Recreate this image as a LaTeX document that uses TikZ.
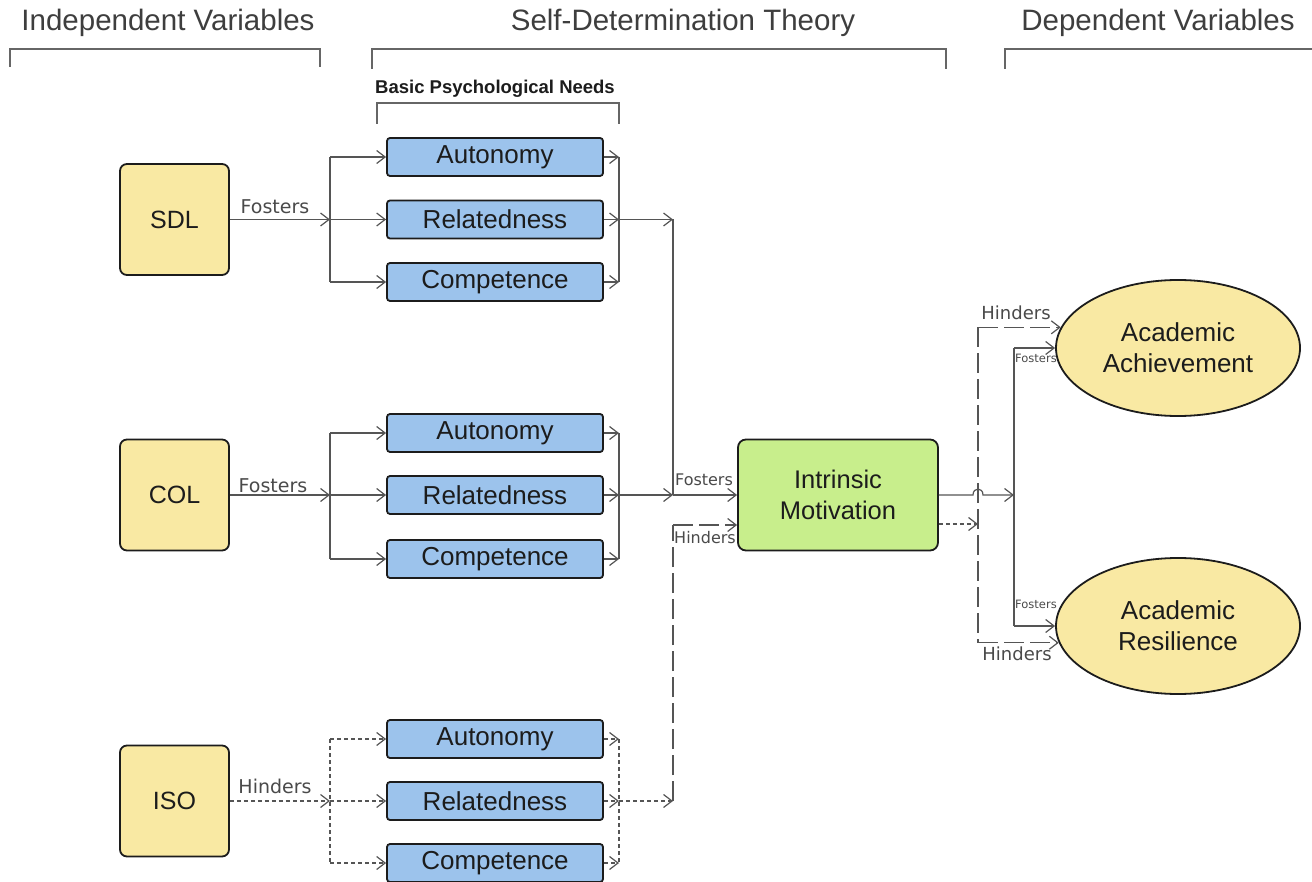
\documentclass[tikz,border=0pt]{standalone}
\usepackage{fontspec}
\setmainfont{Liberation Sans}
\newfontfamily\lblfont{DejaVu Sans}
\usetikzlibrary{arrows.meta,shapes.geometric}

\definecolor{yel}{HTML}{F9E9A3}
\definecolor{blu}{HTML}{9CC3EC}
\definecolor{grn}{HTML}{C8EE8C}
\definecolor{ink}{HTML}{1C1C1C}
\definecolor{wire}{HTML}{555555}
\definecolor{lbl}{HTML}{4A4A4A}

\tikzset{
  conn/.style={draw=wire, line width=1.2pt},
  tip/.style={-{Straight Barb[length=8.5pt,width=13pt]}},
  dots/.style={dash pattern=on 4pt off 3pt},
  longdash/.style={dash pattern=on 20pt off 6pt},
  ivbox/.style={draw=ink, line width=1.8pt, fill=yel, rounded corners=7pt,
    minimum width=109pt, minimum height=111pt, inner sep=0pt,
    font=\fontsize{25}{30}\selectfont, text=ink},
  needbox/.style={draw=ink, line width=1.8pt, fill=blu, rounded corners=3pt,
    minimum width=216pt, minimum height=38pt, inner sep=0pt,
    font=\fontsize{26}{30}\selectfont, text=ink},
  imbox/.style={draw=ink, line width=1.8pt, fill=grn, rounded corners=8pt,
    minimum width=200pt, minimum height=111pt, inner sep=0pt, align=center,
    font=\fontsize{25.5}{31}\selectfont, text=ink},
  dvell/.style={draw=ink, line width=1.8pt, fill=yel, ellipse, inner sep=0pt,
    minimum width=244pt, minimum height=136pt, align=center,
    font=\fontsize{26}{31}\selectfont, text=ink},
  title/.style={font=\fontsize{29.5}{32}\selectfont, text=ink!85},
  bracket/.style={draw=wire!90, line width=1.4pt},
  elabel/.style={font=\lblfont\fontsize{19}{22}\selectfont, text=lbl, inner sep=0pt},
}

\begin{document}
\begin{tikzpicture}[x=1pt,y=-1pt]
  \useasboundingbox (0,0) rectangle (1312,882);
  \fill[white] (0,0) rectangle (1312,882);

  % section headings and their brackets
  \node[title] (tIV) at (168,23) {Independent Variables};
  \node[title] (tSDT) at (683,23) {Self-Determination Theory};
  \node[title] (tDV) at (1158,23) {Dependent Variables};
  \draw[bracket] (10,67) -- (10,49) -- (320,49) -- (320,67);
  \draw[bracket] (372,69) -- (372,49) -- (946,49) -- (946,69);
  \draw[bracket] (1005,69) -- (1005,49) -- (1312,49);

  \node[font=\bfseries\fontsize{18.5}{20}\selectfont, text=ink] (bpn) at (495,89) {Basic Psychological Needs};
  \draw[bracket] (377,124) -- (377,103) -- (619,103) -- (619,124);

  % independent variables
  \node[ivbox] (sdl) at (174.5,219.5) {SDL};
  \node[ivbox] (col) at (174.5,495) {COL};
  \node[ivbox] (iso) at (174.5,801) {ISO};

  % basic psychological needs, one triple per independent variable
  \node[needbox] (a1) at (495,157) {Autonomy};
  \node[needbox] (r1) at (495,219.5) {Relatedness};
  \node[needbox] (c1) at (495,282) {Competence};
  \node[needbox] (a2) at (495,433) {Autonomy};
  \node[needbox] (r2) at (495,495) {Relatedness};
  \node[needbox] (c2) at (495,559) {Competence};
  \node[needbox] (a3) at (495,739) {Autonomy};
  \node[needbox] (r3) at (495,801) {Relatedness};
  \node[needbox] (c3) at (495,863) {Competence};

  % mediator and outcomes
  \node[imbox] (im) at (838,495) {Intrinsic\\Motivation};
  \node[dvell] (ach) at (1178,348) {Academic\\Achievement};
  \node[dvell] (res) at (1178,626) {Academic\\Resilience};

  % junction points
  \coordinate (s1) at (330,219.5);
  \coordinate (s2) at (330,495);
  \coordinate (s3) at (330,801);
  \coordinate (e1) at (619,219.5);
  \coordinate (e2) at (619,495);
  \coordinate (e3) at (619,801);
  \coordinate (m1) at (673,219.5);
  \coordinate (m2) at (673,495);
  \coordinate (m3) at (673,801);
  \coordinate (h3) at (673,525);
  \coordinate (fv) at (1014,495);
  \coordinate (hv) at (978,524);
  \coordinate (jp) at (978,495);

  % SDL fosters
  \draw[conn,tip] (sdl.east) -- (s1);
  \draw[conn] (s1 |- a1.west) -- (s1 |- c1.west);
  \draw[conn,tip] (s1 |- a1.west) -- (a1.west);
  \draw[conn,tip] (s1) -- (r1.west);
  \draw[conn,tip] (s1 |- c1.west) -- (c1.west);
  \draw[conn,tip] (a1.east) -- (e1 |- a1.east);
  \draw[conn,tip] (r1.east) -- (e1);
  \draw[conn,tip] (c1.east) -- (e1 |- c1.east);
  \draw[conn] (e1 |- a1.east) -- (e1 |- c1.east);
  \draw[conn,tip] (e1) -- (m1);
  \node[elabel] (lsdl) at (275,207) {Fosters};

  % COL fosters
  \draw[conn,tip] (col.east) -- (s2);
  \draw[conn] (s2 |- a2.west) -- (s2 |- c2.west);
  \draw[conn,tip] (s2 |- a2.west) -- (a2.west);
  \draw[conn,tip] (s2) -- (r2.west);
  \draw[conn,tip] (s2 |- c2.west) -- (c2.west);
  \draw[conn,tip] (a2.east) -- (e2 |- a2.east);
  \draw[conn,tip] (r2.east) -- (e2);
  \draw[conn,tip] (c2.east) -- (e2 |- c2.east);
  \draw[conn] (e2 |- a2.east) -- (e2 |- c2.east);
  \draw[conn,tip] (e2) -- (m2);
  \node[elabel] (lcol) at (273,486) {Fosters};

  % ISO hinders
  \draw[conn,dots,tip] (iso.east) -- (s3);
  \draw[conn,dots] (s3 |- a3.west) -- (s3 |- c3.west);
  \draw[conn,dots,tip] (s3 |- a3.west) -- (a3.west);
  \draw[conn,dots,tip] (s3) -- (r3.west);
  \draw[conn,dots,tip] (s3 |- c3.west) -- (c3.west);
  \draw[conn,dots,tip] (a3.east) -- (e3 |- a3.east);
  \draw[conn,dots,tip] (r3.east) -- (e3);
  \draw[conn,dots,tip] (c3.east) -- (e3 |- c3.east);
  \draw[conn,dots] (e3 |- a3.east) -- (e3 |- c3.east);
  \draw[conn,dots,tip] (e3) -- (m3);
  \node[elabel] (liso) at (275,786) {Hinders};

  % into intrinsic motivation
  \draw[conn] (m1) -- (m2);
  \draw[conn,tip] (m2) -- (im.west);
  \draw[conn,longdash] (m3) -- (h3);
  \draw[conn,longdash,tip] (h3) -- (h3 -| im.west);
  \node[elabel, font=\lblfont\fontsize{16}{18}\selectfont] (lfi) at (704,480) {Fosters};
  \node[elabel, font=\lblfont\fontsize{16}{18}\selectfont] (lhi) at (705,538) {Hinders};

  % out of intrinsic motivation: fosters (with a jump over the hinders line)
  \draw[conn,tip] (im.east) -- ([xshift=-5pt]jp)
    .. controls ([xshift=-5pt,yshift=8pt]jp) and ([xshift=5pt,yshift=8pt]jp) .. ([xshift=5pt]jp)
    -- (fv);
  \draw[conn] (fv |- ach.west) -- (fv |- res.west);
  \draw[conn,tip] (fv |- ach.west) -- (ach.west);
  \draw[conn,tip] (fv |- res.west) -- (res.west);
  \node[elabel, font=\lblfont\fontsize{11.5}{13}\selectfont] (lfa) at (1036,358) {Fosters};
  \node[elabel, font=\lblfont\fontsize{11.5}{13}\selectfont] (lfr) at (1036,604) {Fosters};

  % out of intrinsic motivation: hinders
  \draw[conn,dots,tip] (hv -| im.east) -- (hv);
  \draw[conn,longdash] (hv |- ach.170) -- (hv |- res.188);
  \draw[conn,longdash,tip] (hv |- ach.170) -- (ach.170);
  \draw[conn,longdash,tip] (hv |- res.188) -- (res.188);
  \node[elabel, font=\lblfont\fontsize{18}{20}\selectfont] (lha) at (1016,313) {Hinders};
  \node[elabel, font=\lblfont\fontsize{18}{20}\selectfont] (lhr) at (1017,654) {Hinders};
\end{tikzpicture}
\end{document}
